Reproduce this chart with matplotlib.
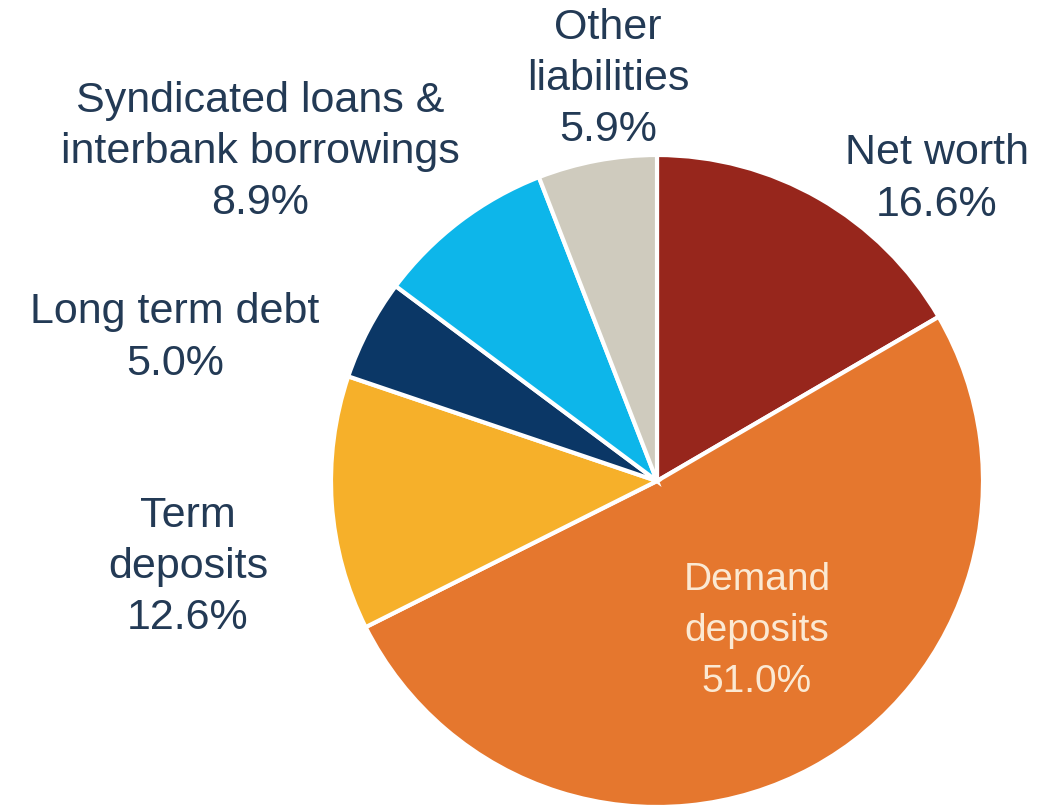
import matplotlib.pyplot as plt

# Liabilities breakdown (%), clockwise from 12 o'clock
labels = ['Net worth', 'Demand\ndeposits', 'Term\ndeposits', 'Long term debt',
          'Syndicated loans &\ninterbank borrowings', 'Other\nliabilities']
shares = [16.6, 51.0, 12.6, 5.0, 8.9, 5.9]
colors = ['#97261c', '#e5772e', '#f6b02a', '#0b3766', '#0db6ea', '#cfcbbe']

# label placement (pixel coords from the top-left corner of the picture)
label_pos = [(937, 179), (757, 631), (188, 567), (175, 338), (260, 152), (608, 79)]

W, H = 1061, 812
cx, cy, r = 657, 482, 326

fig = plt.figure(figsize=(W / 100, H / 100), dpi=100)
ax = fig.add_axes([0, 0, 1, 1])

ax.pie(shares, colors=colors, startangle=90, counterclock=False,
       center=(cx, H - cy), radius=r, frame=True,
       wedgeprops=dict(edgecolor='white', linewidth=3))
ax.set_xlim(0, W)
ax.set_ylim(0, H)
ax.set_aspect('equal')
ax.axis('off')

txt_color = '#233a55'
for lab, val, (x, y) in zip(labels, shares, label_pos):
    s = '%s\n%.1f%%' % (lab, val)
    if lab.startswith('Demand'):
        ax.text(x, H - y, s, ha='center', va='center', fontsize=28,
                color='#fbe9d3', linespacing=1.55, family=['Liberation Sans'])
    else:
        ax.text(x, H - y, s, ha='center', va='center', fontsize=31,
                color=txt_color, linespacing=1.36, family=['Liberation Sans'])

fig.savefig('out.png', dpi=100, facecolor='white')
